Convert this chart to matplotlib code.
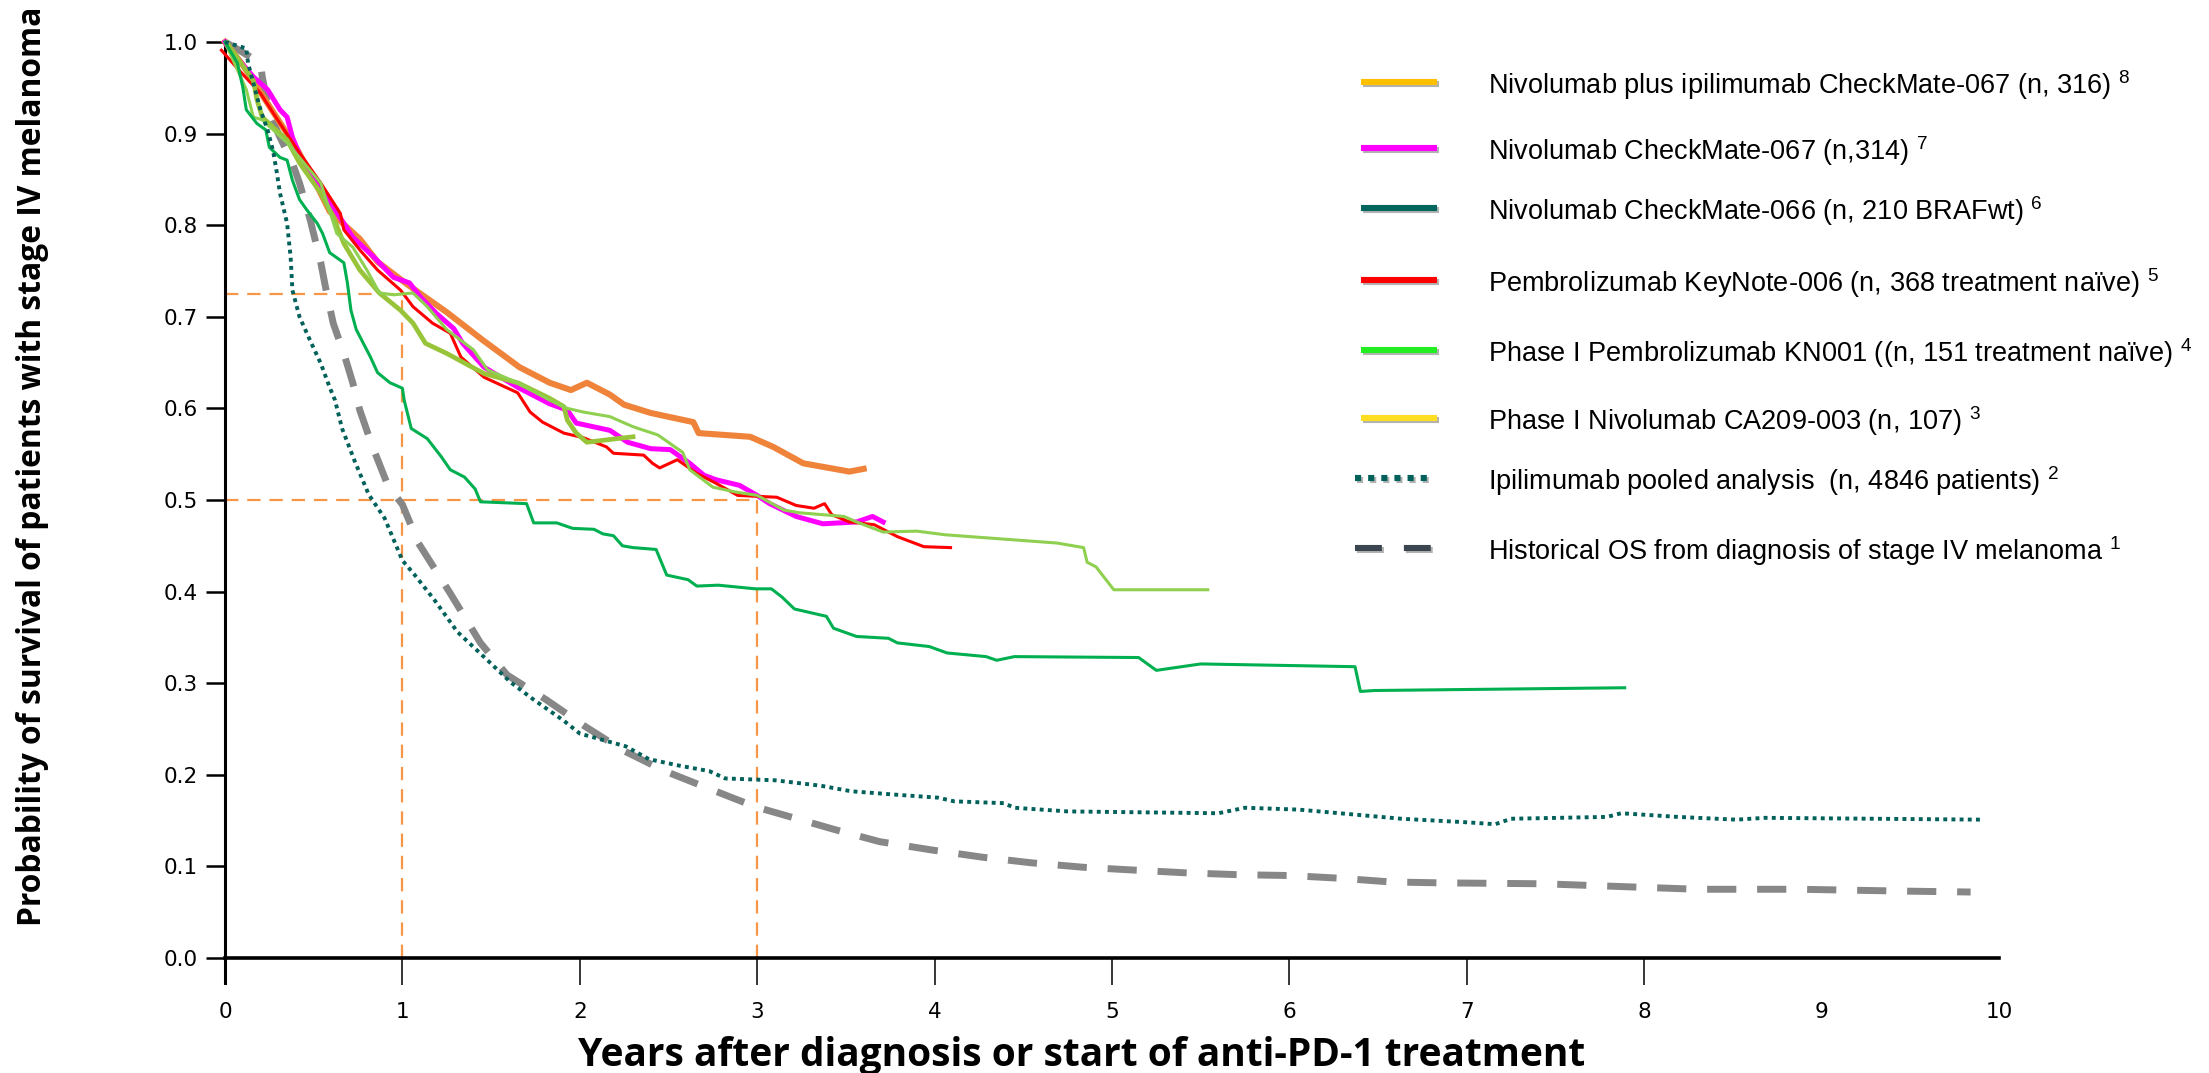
import numpy as np
import matplotlib
matplotlib.use("Agg")
import matplotlib.pyplot as plt
import matplotlib.patheffects as pe

plt.rcParams['mathtext.fontset'] = 'custom'
plt.rcParams['mathtext.rm'] = 'Liberation Sans'

# ---- data: (years, survival probability) ----
nivo_ipi_067 = [(0, 1.0), (0.1, 0.975), (0.25, 0.93), (0.4, 0.885), (0.5, 0.85), (0.59, 0.815),
                (0.76, 0.785), (0.86, 0.760), (1.03, 0.735), (1.25, 0.705), (1.45, 0.675),
                (1.66, 0.645), (1.83, 0.628), (1.95, 0.620), (2.04, 0.628), (2.17, 0.615),
                (2.25, 0.604), (2.40, 0.595), (2.64, 0.585), (2.67, 0.573), (2.96, 0.569),
                (3.09, 0.558), (3.26, 0.540), (3.52, 0.531), (3.60, 0.534)]

nivo_067 = [(0, 1.0), (0.03, 0.991), (0.16, 0.962), (0.24, 0.948), (0.31, 0.926), (0.35, 0.918),
            (0.38, 0.896), (0.44, 0.868), (0.54, 0.842), (0.61, 0.820), (0.72, 0.787), (0.84, 0.765),
            (0.95, 0.743), (1.04, 0.737), (1.10, 0.722), (1.19, 0.704), (1.29, 0.687), (1.34, 0.671),
            (1.46, 0.645), (1.65, 0.623), (1.83, 0.605), (1.93, 0.598), (1.98, 0.584), (2.17, 0.576),
            (2.27, 0.563), (2.40, 0.556), (2.51, 0.555), (2.62, 0.540), (2.70, 0.527), (2.77, 0.522),
            (2.90, 0.516), (3.00, 0.505), (3.07, 0.496), (3.22, 0.482), (3.37, 0.474), (3.56, 0.476),
            (3.65, 0.482), (3.71, 0.476)]

pembro_006 = [(-0.02, 0.991), (0.08, 0.969), (0.20, 0.944), (0.31, 0.911), (0.42, 0.879), (0.54, 0.846),
              (0.65, 0.813), (0.67, 0.795), (0.76, 0.773), (0.86, 0.751), (0.99, 0.729), (1.06, 0.711),
              (1.17, 0.693), (1.27, 0.682), (1.33, 0.656), (1.46, 0.634), (1.65, 0.617), (1.72, 0.596),
              (1.79, 0.585), (1.91, 0.573), (2.02, 0.568), (2.15, 0.558), (2.19, 0.551), (2.36, 0.549),
              (2.41, 0.540), (2.45, 0.535), (2.55, 0.544), (2.66, 0.529), (2.77, 0.518), (2.89, 0.505),
              (3.11, 0.503), (3.22, 0.494), (3.32, 0.491), (3.38, 0.496), (3.42, 0.484), (3.52, 0.476),
              (3.66, 0.473), (3.79, 0.460), (3.94, 0.449), (4.09, 0.448)]

light_green = [(0, 1.0), (0.12, 0.948), (0.16, 0.918), (0.21, 0.915), (0.35, 0.89), (0.54, 0.846),
               (0.63, 0.791), (0.72, 0.776), (0.80, 0.751), (0.87, 0.726), (0.95, 0.724), (1.06, 0.726),
               (1.14, 0.711), (1.25, 0.686), (1.40, 0.664), (1.48, 0.642), (1.65, 0.628), (1.83, 0.609),
               (1.93, 0.600), (2.02, 0.596), (2.17, 0.591), (2.30, 0.580), (2.44, 0.571), (2.58, 0.552),
               (2.62, 0.533), (2.75, 0.514), (2.87, 0.509), (3.00, 0.505), (3.15, 0.489), (3.24, 0.486),
               (3.49, 0.482), (3.56, 0.476), (3.71, 0.465), (3.90, 0.466), (4.06, 0.462), (4.69, 0.453),
               (4.84, 0.448), (4.86, 0.432), (4.91, 0.427), (5.01, 0.402), (5.54, 0.402)]

olive_green = [(0.01, 0.999), (0.08, 0.980), (0.16, 0.958), (0.18, 0.937), (0.21, 0.918), (0.27, 0.907),
               (0.35, 0.893), (0.42, 0.868), (0.54, 0.835), (0.61, 0.809), (0.67, 0.780), (0.76, 0.751),
               (0.87, 0.726), (0.99, 0.707), (1.06, 0.693), (1.13, 0.671), (1.25, 0.660), (1.46, 0.638),
               (1.65, 0.628), (1.83, 0.611), (1.91, 0.602), (1.93, 0.587), (1.98, 0.573), (2.04, 0.563),
               (2.21, 0.567), (2.30, 0.569)]

green = [(0, 1.0), (0.07, 0.977), (0.10, 0.951), (0.12, 0.926), (0.18, 0.911), (0.23, 0.904), (0.25, 0.885),
         (0.31, 0.874), (0.35, 0.871), (0.38, 0.849), (0.42, 0.828), (0.46, 0.817), (0.52, 0.802),
         (0.55, 0.791), (0.59, 0.770), (0.67, 0.759), (0.69, 0.737), (0.71, 0.707), (0.74, 0.686),
         (0.78, 0.671), (0.82, 0.656), (0.86, 0.639), (0.93, 0.628), (1.00, 0.622), (1.01, 0.609),
         (1.05, 0.578), (1.14, 0.567), (1.22, 0.547), (1.27, 0.533), (1.35, 0.525), (1.41, 0.512),
         (1.44, 0.498), (1.70, 0.496), (1.74, 0.475), (1.87, 0.475), (1.96, 0.469), (2.08, 0.468),
         (2.13, 0.463), (2.19, 0.461), (2.24, 0.450), (2.30, 0.448), (2.43, 0.446), (2.49, 0.418),
         (2.61, 0.413), (2.66, 0.406), (2.78, 0.407), (2.99, 0.403), (3.08, 0.403), (3.14, 0.394),
         (3.21, 0.381), (3.39, 0.373), (3.43, 0.360), (3.56, 0.351), (3.74, 0.349), (3.79, 0.344),
         (3.97, 0.340), (4.07, 0.333), (4.29, 0.329), (4.35, 0.325), (4.45, 0.329), (5.15, 0.328),
         (5.25, 0.314), (5.50, 0.321), (6.37, 0.318), (6.40, 0.291), (6.48, 0.292), (7.89, 0.295)]

ipi_pooled = [(0, 1.0), (0.12, 0.993), (0.13, 0.977), (0.16, 0.955), (0.20, 0.926), (0.24, 0.904),
              (0.27, 0.882), (0.29, 0.860), (0.31, 0.835), (0.35, 0.802), (0.37, 0.765), (0.38, 0.729),
              (0.42, 0.700), (0.48, 0.674), (0.54, 0.649), (0.59, 0.623), (0.62, 0.609), (0.66, 0.578),
              (0.73, 0.543), (0.81, 0.506), (0.90, 0.480), (1.00, 0.434), (1.07, 0.418), (1.18, 0.391),
              (1.31, 0.356), (1.48, 0.325), (1.61, 0.301), (1.74, 0.282), (1.91, 0.259), (2.00, 0.245),
              (2.26, 0.231), (2.39, 0.217), (2.56, 0.210), (2.73, 0.204), (2.82, 0.196), (3.10, 0.194),
              (3.36, 0.188), (3.53, 0.182), (3.80, 0.178), (4.02, 0.175), (4.11, 0.171), (4.39, 0.169),
              (4.45, 0.164), (4.75, 0.160), (5.60, 0.158), (5.75, 0.164), (6.05, 0.162), (6.40, 0.156),
              (6.63, 0.152), (7.01, 0.148), (7.16, 0.146), (7.25, 0.152), (7.79, 0.154), (7.87, 0.158),
              (8.19, 0.154), (8.52, 0.151), (8.68, 0.153), (9.91, 0.151)]

historical = [(0, 1.0), (0.08, 0.991), (0.20, 0.977), (0.21, 0.962), (0.25, 0.922), (0.31, 0.896),
              (0.38, 0.868), (0.42, 0.846), (0.48, 0.806), (0.54, 0.759), (0.57, 0.729), (0.61, 0.693),
              (0.67, 0.660), (0.72, 0.628), (0.76, 0.598), (0.83, 0.559), (0.92, 0.515), (1.00, 0.495),
              (1.09, 0.453), (1.27, 0.398), (1.44, 0.344), (1.59, 0.309), (1.81, 0.282), (2.02, 0.254),
              (2.24, 0.227), (2.48, 0.204), (2.74, 0.184), (2.99, 0.165), (3.26, 0.150), (3.44, 0.140),
              (3.69, 0.127), (3.98, 0.118), (4.27, 0.110), (4.54, 0.104), (4.84, 0.099), (5.12, 0.096),
              (5.41, 0.093), (5.70, 0.091), (6.00, 0.090), (6.29, 0.087), (6.57, 0.083), (6.85, 0.082),
              (7.43, 0.081), (7.72, 0.079), (8.01, 0.077), (8.30, 0.075), (8.88, 0.075), (9.46, 0.073),
              (9.84, 0.072)]

# median / 1-year reference marks (year, survival)
ref_marks = [(1, 0.725), (3, 0.5)]

x_ticks = list(range(0, 11))
y_ticks = [0.0, 0.1, 0.2, 0.3, 0.4, 0.5, 0.6, 0.7, 0.8, 0.9, 1.0]

legend_labels = ["Nivolumab plus ipilimumab CheckMate-067 (n, 316)",
                 "Nivolumab CheckMate-067 (n,314)",
                 "Nivolumab CheckMate-066 (n, 210 BRAFwt)",
                 "Pembrolizumab KeyNote-006 (n, 368 treatment naïve)",
                 "Phase I Pembrolizumab KN001 ((n, 151 treatment naïve)",
                 "Phase I Nivolumab CA209-003 (n, 107)",
                 "Ipilimumab pooled analysis  (n, 4846 patients)",
                 "Historical OS from diagnosis of stage IV melanoma"]
legend_refs = ["8", "7", "6", "5", "4", "3", "2", "1"]

###############################################################################
W, H = 2209, 1073
fig = plt.figure(figsize=(W / 100, H / 100), dpi=100)
ax = fig.add_axes([225 / W, 1 - 982.7 / H, 1774 / W, (982.7 - 42) / H])
ax.set_xlim(0, 10)
ax.set_ylim(-0.027, 1.0)

ref_col = '#F79646'
for xm, ym in ref_marks:
    ax.plot([0, xm], [ym, ym], color=ref_col, lw=1.6, dashes=(6, 4), zorder=1)
    ax.plot([xm, xm], [0, ym], color=ref_col, lw=1.6, dashes=(6, 4), zorder=1)


def draw(curve, **kw):
    t, s = np.array(curve).T
    ax.plot(t, s, clip_on=False, solid_joinstyle='round', **kw)


draw(historical, color='#878787', lw=5, dashes=(4.2, 3.0), zorder=2)
draw(nivo_ipi_067, color='#EF833A', lw=4.4, zorder=3)
draw(nivo_067, color='#FF00FF', lw=3.6, zorder=4)
draw(pembro_006, color='#FF0000', lw=2.2, zorder=5)
draw(olive_green, color='#98C43A', lw=3.4, zorder=5)
draw(light_green, color='#8FD050', lw=2.2, zorder=6)
draw(green, color='#00B050', lw=2.2, zorder=6)
draw(ipi_pooled, color='#00605A', lw=2.8, dashes=(1, 1.1), zorder=7)

for s in ['top', 'right']:
    ax.spines[s].set_visible(False)
ax.spines['bottom'].set_position(('data', 0))
ax.spines['left'].set_linewidth(2.2)
ax.spines['bottom'].set_linewidth(2.6)

ax.set_xticks(x_ticks)
ax.set_xticklabels([str(v) for v in x_ticks])
ax.set_yticks(y_ticks)
ax.set_yticklabels(['%.1f' % v for v in y_ticks])
ax.tick_params(axis='x', direction='out', length=19.4, width=1.1, pad=12, labelsize=15.5)
ax.tick_params(axis='y', direction='out', length=13.7, width=1.8, pad=6, labelsize=15.5)
for tk in ax.xaxis.get_major_ticks()[9:]:
    tk.tick1line.set_visible(False)

ylab = fig.text(33 / W, 1 - 466 / H, "Probability of survival of patients with stage IV melanoma",
                rotation=90, ha='center', va='center', fontsize=20, fontweight='bold',
                family='Open Sans')
xlab = fig.text(1082 / W, 1 - 1066 / H, "Years after diagnosis or start of anti-PD-1 treatment",
                ha='center', va='baseline', fontsize=22, fontweight='bold', family='Open Sans')
# scale the axis titles to the length they have in the original
fig.canvas.draw()
ylab.set_fontsize(20 * 918 / ylab.get_window_extent().height)
xlab.set_fontsize(22 * 1005 / xlab.get_window_extent().width)

###############################################################################
# legend drawn by hand (uneven row spacing in the original)
lg = fig.add_axes([0, 0, 1, 1])
lg.set_xlim(0, W)
lg.set_ylim(H, 0)
lg.axis('off')

rows_y = [82, 148, 208, 280, 350, 418, 478, 548]
handle_styles = [dict(color='#FFC000'), dict(color='#FF00FF'), dict(color='#00665E'),
                 dict(color='#FF0000'), dict(color='#22EE22'), dict(color='#FFDD22'),
                 dict(color='#00605A', dashes=(1, 1.15)), dict(color='#3B4650', dashes=(4.4, 3.6))]
shadow = [pe.SimpleLineShadow(offset=(1.5, -1.5), shadow_color='#555555', alpha=0.45), pe.Normal()]
for y, lab, ref, st in zip(rows_y, legend_labels, legend_refs, handle_styles):
    x0, x1 = (1361, 1437) if 'dashes' not in st else (1355, 1432)
    lg.plot([x0, x1], [y, y], lw=4.4, solid_capstyle='butt', dash_capstyle='butt',
            path_effects=shadow, **st)
    lg.text(1488, y + 11.5, lab + " $^{%s}$" % ref, ha='left', va='baseline',
            fontsize=19.5, family='Liberation Sans')

fig.savefig('out.png', dpi=100)
